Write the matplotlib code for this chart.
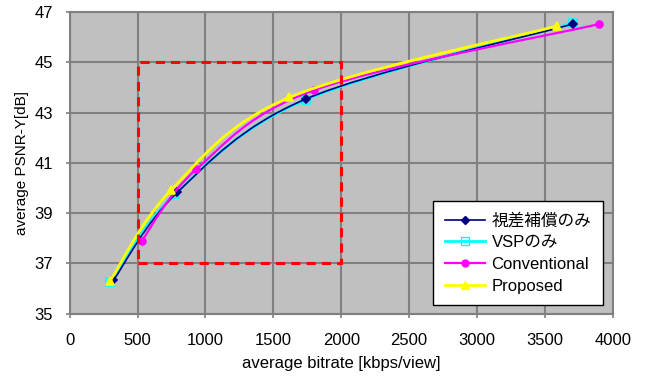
import matplotlib
matplotlib.use("Agg")
import matplotlib.pyplot as plt
from matplotlib.path import Path
from matplotlib.patches import PathPatch, Rectangle
from matplotlib.lines import Line2D

plt.rcParams['font.family'] = ['Liberation Sans', 'Noto Sans CJK JP', 'DejaVu Sans']

# bitrate [kbps/view] and PSNR-Y [dB] for each method
disp_x = [322, 793, 1741, 3705]
disp_y = [36.33, 39.83, 43.55, 46.53]
vsp_x = [297, 776, 1738, 3705]
vsp_y = [36.25, 39.77, 43.52, 46.56]
conv_x = [531, 931, 1802, 3901]
conv_y = [37.9, 40.74, 43.9, 46.53]
prop_x = [297, 747, 1618, 3587]
prop_y = [36.3, 39.92, 43.61, 46.45]

labels = ['視差補償のみ', 'VSPのみ', 'Conventional', 'Proposed']
colors = ['#000080', '#00FFFF', '#FF00FF', '#FFFF00']

xticks = [0, 500, 1000, 1500, 2000, 2500, 3000, 3500, 4000]
yticks = [35, 37, 39, 41, 43, 45, 47]

# dashed region of interest
box_x = [500, 2000]
box_y = [37, 45]


def smooth_path(xs, ys):
    """Excel-style smoothed line through the points as cubic Bezier segments"""
    pts = list(zip(xs, ys))
    verts = [pts[0]]
    codes = [Path.MOVETO]
    n = len(pts)
    for i in range(n - 1):
        p0 = pts[i - 1] if i > 0 else pts[i]
        p1 = pts[i]
        p2 = pts[i + 1]
        p3 = pts[i + 2] if i + 2 < n else pts[i + 1]
        c1 = (p1[0] + (p2[0] - p0[0]) / 6, p1[1] + (p2[1] - p0[1]) / 6)
        c2 = (p2[0] - (p3[0] - p1[0]) / 6, p2[1] - (p3[1] - p1[1]) / 6)
        verts += [c1, c2, p2]
        codes += [Path.CURVE4] * 3
    return Path(verts, codes)


fig = plt.figure(figsize=(6.45, 3.83), dpi=100)
ax = fig.add_axes([0.108, 0.181, 0.842, 0.787])
ax.set_facecolor('#C0C0C0')

series = [
    (disp_x, disp_y, 'D', 4, colors[0], colors[0], 1.2, 4),
    (vsp_x, vsp_y, 's', 6, 'none', colors[1], 2.0, 3),
    (conv_x, conv_y, 'o', 5, colors[2], colors[2], 1.6, 5),
    (prop_x, prop_y, '^', 6, colors[3], colors[3], 2.0, 6),
]

handles = []
for (xs, ys, mk, ms, fc, col, lw, z), lab in zip(series, labels):
    ax.add_patch(PathPatch(smooth_path(xs, ys), facecolor='none', edgecolor=col,
                           lw=lw, zorder=z))
    ax.plot(xs, ys, linestyle='none', marker=mk, markersize=ms,
            markerfacecolor=fc, markeredgecolor=col, markeredgewidth=1.2, zorder=z + 0.5)
    handles.append(Line2D([], [], color=col, lw=lw, marker=mk, markersize=ms,
                          markerfacecolor=fc, markeredgecolor=col, label=lab))

ax.add_patch(Rectangle((box_x[0], box_y[0]), box_x[1] - box_x[0], box_y[1] - box_y[0],
                       facecolor='none', edgecolor='#FF0000', lw=2.2,
                       linestyle=(0, (3, 2)), zorder=7))

ax.set_xlim(0, 4000)
ax.set_ylim(35, 47)
ax.set_xticks(xticks)
ax.set_yticks(yticks)
ax.grid(True, color='#808080', lw=1.5)
ax.set_axisbelow(True)
for s in ax.spines.values():
    s.set_color('#808080')
    s.set_linewidth(1.5)
ax.tick_params(axis='both', length=3, color='#808080', width=1.2, labelsize=12)
ax.tick_params(axis='x', pad=11)
ax.tick_params(axis='y', pad=9)

ax.set_xlabel('average bitrate [kbps/view]', fontsize=12, labelpad=6)
ax.set_ylabel('average PSNR-Y[dB]', fontsize=11, labelpad=4)

leg = ax.legend(handles=handles, loc='lower right', bbox_to_anchor=(0.982, 0.028),
                borderaxespad=0, fontsize=12, fancybox=False, framealpha=1,
                edgecolor='black', borderpad=0.7, labelspacing=0.4,
                handlelength=2.4, handletextpad=0.4)
leg.get_frame().set_linewidth(1.0)
leg.set_zorder(10)

fig.savefig('out.png', dpi=100)
